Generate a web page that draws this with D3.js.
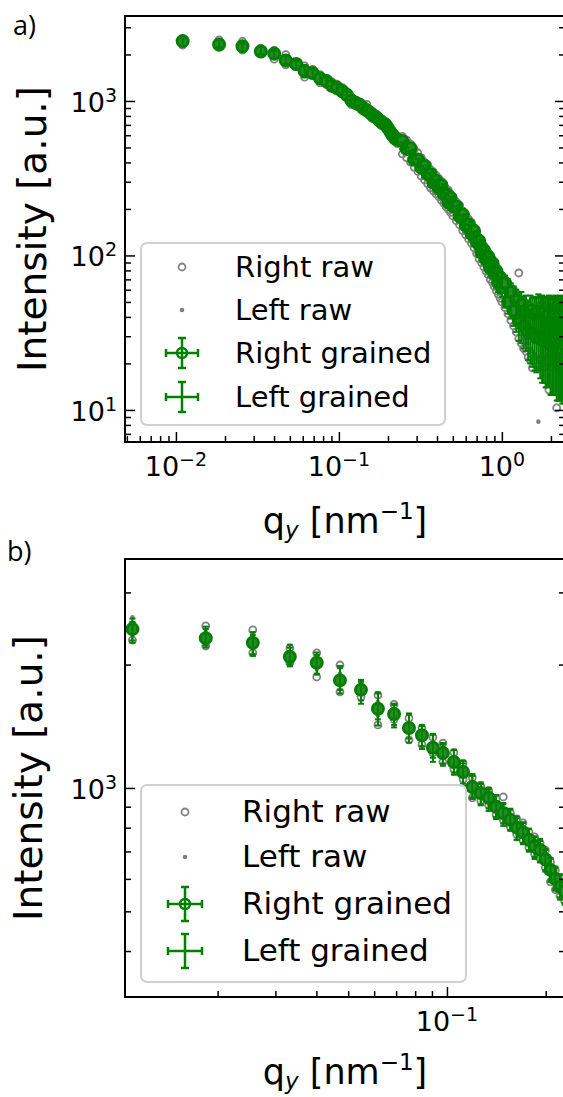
<!DOCTYPE html>
<html><head>
<meta charset="utf-8">
<script src="https://cdnjs.cloudflare.com/ajax/libs/d3/7.8.5/d3.min.js"></script>
<style>
  body { margin: 0; background: #fff; }
  svg { display: block; font-family: "DejaVu Sans", sans-serif; }
  .tick line { stroke: #000; stroke-width: 1.5px; }
  .domain { display: none; }
</style>
</head>
<body>
<svg id="fig" width="563" height="1097"></svg>
<script>

// q grid [nm^-1] (low-q part first, then the high-q tail seen only in panel a)
const qValues = [0.0110, 0.0184, 0.0256, 0.0332, 0.0401, 0.0472, 0.0547, 0.0616, 0.0690, 0.0766, 0.0839, 0.0906, 0.0972, 0.1050, 0.1120, 0.1195, 0.1268, 0.1340, 0.1412, 0.1485, 0.1560, 0.1632, 0.1705, 0.1778, 0.1850, 0.1922, 0.1995, 0.2068, 0.2140, 0.2212, 0.2285,
  0.245, 0.26, 0.275, 0.29, 0.305, 0.32, 0.335, 0.35, 0.365, 0.38, 0.395, 0.41, 0.425, 0.44, 0.455, 0.47, 0.485, 0.50,
  0.525, 0.55, 0.575, 0.60, 0.625, 0.65, 0.675, 0.70, 0.725, 0.75, 0.775, 0.80, 0.825, 0.85, 0.875, 0.90, 0.925, 0.95, 0.975, 1.00,
  1.045, 1.09, 1.135, 1.18, 1.225, 1.27, 1.315, 1.36, 1.405, 1.45, 1.495, 1.54, 1.585, 1.63, 1.675, 1.72, 1.765, 1.81, 1.855, 1.90, 1.945, 1.99, 2.035, 2.08, 2.125, 2.17, 2.215, 2.26, 2.305, 2.35, 2.395, 2.44];

// binned ("grained") intensities and their errors
const rightGrained = [2440, 2320, 2260, 2090, 2020, 1830, 1735, 1560, 1515, 1400, 1345, 1253, 1217, 1157, 1094, 1005, 972, 946, 900, 869, 836, 800, 780, 747, 720, 706, 670, 631, 600, 574, 560,
  551, 490, 494, 416, 418, 370, 380, 335, 336, 295, 304, 272, 286, 250, 250, 221, 236, 209,
  208, 179, 184, 156, 159, 138, 144, 122, 124, 104, 108, 94, 98, 83, 89, 77, 79, 67, 72, 62,
  66, 50, 58, 44, 51, 38, 48, 35, 44, 32, 44, 31, 42, 29.5, 43, 29, 42, 28, 40, 28, 41, 26.5, 40, 26.5, 41, 25.5, 40, 25.5, 41, 25, 40, 26];
const leftGrained = [2400, 2350, 2230, 2120, 2000, 1860, 1710, 1590, 1500, 1420, 1330, 1270, 1205, 1165, 1080, 1015, 965, 935, 905, 860, 840, 795, 775, 750, 715, 700, 665, 635, 605, 578, 555,
  514, 525, 451, 460, 398, 400, 344, 362, 313, 326, 280, 294, 259, 271, 233, 247, 216, 224,
  190, 197, 167, 171, 146, 152, 130, 132, 111, 116, 99, 103, 88, 93, 80, 84, 71, 75, 65, 69,
  54, 62, 47, 55, 41, 48, 37, 44, 34, 40, 31, 42, 30, 41, 30, 41, 28, 40, 27, 41, 27.5, 40, 26.5, 39, 26.5, 40, 25.5, 39, 25.5, 40, 25, 38];
const rightErr = [150, 120, 140, 110, 120, 130, 100, 140, 90, 110, 80, 95, 70, 80, 70, 65, 60, 55, 60, 50, 50, 52, 45, 48, 42, 45, 40, 42, 38, 40, 36,
  28, 27, 26, 25, 24, 23, 22, 22, 21, 20, 20, 19, 19, 18, 18, 17, 17, 16,
  16, 15, 15, 14, 14, 13, 13, 12, 12, 11, 11, 10, 10, 10, 9, 9, 9, 9, 8, 8,
  8, 8, 8, 9, 9, 10, 10, 10, 11, 11, 11, 12, 12, 12, 13, 13, 13, 13, 14, 14, 14, 14, 14, 14, 14, 14, 14, 14, 14, 14, 14, 14];
const leftErr = [140, 125, 130, 115, 110, 125, 105, 120, 95, 100, 85, 85, 72, 75, 68, 66, 58, 56, 56, 52, 50, 48, 46, 45, 44, 42, 40, 40, 38, 37, 36,
  26, 26, 25, 24, 23, 22, 22, 21, 20, 20, 19, 19, 18, 18, 17, 17, 16, 16,
  15, 15, 14, 14, 13, 13, 12, 12, 11, 11, 10, 10, 10, 9, 9, 9, 9, 8, 8, 8,
  8, 8, 8, 8, 9, 9, 10, 10, 10, 11, 11, 11, 12, 12, 12, 13, 13, 13, 13, 13, 13, 13, 14, 13, 14, 13, 14, 13, 14, 13, 14, 13];

// raw frames (two per side)
const rightRaw1 = [2500, 2486, 2430, 2195, 2135, 1995, 1760, 1685, 1600, 1480, 1400, 1330, 1287, 1220, 1150, 1060, 1010, 985, 940, 951, 870, 840, 822, 780, 760, 735, 705, 660, 630, 605, 590,
  590, 560, 528, 485, 462, 430, 402, 388, 360, 348, 330, 315, 302, 290, 272, 264, 250, 240,
  222, 212, 194, 183, 172, 164, 152, 142, 130, 124, 116, 110, 104, 99, 94, 90, 84, 80, 76, 73,
  70, 66, 62, 60, 57, 77, 52, 50, 49, 48, 47, 50, 46, 45, 47, 44, 48, 43, 45, 46, 44, 51, 43, 45, 44, 46, 43, 51.5, 44, 45, 43, 45];
const rightRaw2 = [2296, 2220, 2135, 2018, 1865, 1715, 1666, 1425, 1470, 1310, 1275, 1217, 1157, 1110, 1050, 946, 930, 909, 860, 835, 803, 770, 745, 715, 690, 675, 640, 590, 565, 545, 530,
  455, 430, 402, 372, 350, 326, 308, 292, 274, 262, 250, 240, 228, 218, 206, 198, 190, 180,
  168, 158, 145, 136, 128, 120, 112, 103, 95, 90, 84, 79, 75, 70, 67, 63, 59, 56, 53, 50,
  46, 42, 38, 35, 32, 29, 27, 25, 24, 22, 21, 18.7, 21, 20, 19.5, 21, 20, 19, 21, 20, 13.5, 20, 19, 21, 20, 10.3, 20, 19, 21, 20, 19, 20];
const leftRaw1 = [2610, 2400, 2350, 2150, 2080, 1900, 1780, 1620, 1550, 1430, 1370, 1290, 1240, 1180, 1120, 1030, 990, 960, 920, 885, 850, 815, 795, 760, 735, 720, 685, 645, 615, 590, 575,
  572, 548, 505, 474, 442, 415, 392, 372, 350, 334, 318, 305, 292, 279, 264, 254, 243, 232,
  216, 203, 188, 176, 166, 157, 148, 136, 126, 119, 112, 106, 100, 95, 91, 86, 81, 77, 73, 70,
  66, 62, 58, 55, 52, 49, 47, 45, 44, 43, 42, 44, 41, 40, 41, 40, 42, 39, 40, 41, 39, 40, 38, 40, 39, 41, 38, 39, 40, 38, 39, 38];
const leftRaw2 = [2380, 2280, 2200, 2050, 1950, 1780, 1700, 1500, 1480, 1370, 1320, 1230, 1190, 1130, 1070, 985, 950, 925, 880, 850, 820, 785, 765, 730, 705, 690, 655, 615, 585, 560, 545,
  478, 452, 425, 392, 370, 345, 326, 310, 290, 278, 265, 254, 242, 232, 220, 211, 202, 193,
  180, 168, 156, 146, 138, 130, 123, 113, 105, 99, 93, 88, 83, 79, 75, 72, 67, 64, 61, 58,
  53, 49, 45, 42, 39, 36, 33, 31, 29, 27, 25, 24, 23, 22, 8.4, 22, 23, 21, 22, 23, 21, 22, 23, 21, 22, 23, 21, 22, 23, 21, 22, 23];

const legendLabels = ["Right raw", "Left raw", "Right grained", "Left grained"];

// panel a: full range, panel b: zoom on low q
const xTicksA = [0.01, 0.1, 1];
const yTicksA = [10, 100, 1000];
const xTicksB = [0.1];
const yTicksB = [1000];

const GREEN = "#008000", GRAY = "#808080";
const svg = d3.select("#fig");

const rows = qValues.map((q, i) => ({
  q: q, r: rightGrained[i], l: leftGrained[i], re: rightErr[i], le: leftErr[i],
  rr: [rightRaw1[i], rightRaw2[i]], lr: [leftRaw1[i], leftRaw2[i]]
}));

function minorTicks(lo, hi) {
  const out = [];
  for (let e = -4; e <= 4; e++) {
    for (let m = 2; m <= 9; m++) {
      const v = m * Math.pow(10, e);
      if (v > lo && v < hi) out.push(v);
    }
  }
  return out;
}

function powLabel(sel, v) {
  const e = Math.round(Math.log10(v));
  sel.append("tspan").text("10");
  sel.append("tspan").attr("font-size", 19).attr("dy", -10).text(e < 0 ? "\u2212" + (-e) : e);
}

function drawPanel(p) {
  const x = d3.scaleLog().domain(p.xDomain).range([p.left, p.right]);
  const y = d3.scaleLog().domain(p.yDomain).range([p.bottom, p.top]);
  const g = svg.append("g");

  svg.append("clipPath").attr("id", "clip" + p.name)
    .append("rect").attr("x", p.left).attr("y", p.top)
    .attr("width", p.right - p.left).attr("height", p.bottom - p.top);
  const plot = g.append("g").attr("clip-path", "url(#clip" + p.name + ")");

  // raw data
  rows.forEach(d => {
    d.rr.forEach(v => plot.append("circle").attr("cx", x(d.q)).attr("cy", y(v)).attr("r", 3.5)
      .attr("fill", "none").attr("stroke", GRAY).attr("stroke-width", 1.8));
    d.lr.forEach(v => plot.append("circle").attr("cx", x(d.q)).attr("cy", y(v)).attr("r", 2.3)
      .attr("fill", GRAY));
  });

  // error bars
  function errbars(val, err, cls) {
    const eb = plot.selectAll("g." + cls).data(rows).join("g").attr("class", cls)
      .attr("stroke", GREEN).attr("stroke-width", 2);
    eb.append("line").attr("x1", d => x(d.q)).attr("x2", d => x(d.q))
      .attr("y1", d => y(val(d) - err(d))).attr("y2", d => y(val(d) + err(d)));
    eb.append("line").attr("x1", d => x(d.q) - 3).attr("x2", d => x(d.q) + 3)
      .attr("y1", d => y(val(d) - err(d))).attr("y2", d => y(val(d) - err(d)));
    eb.append("line").attr("x1", d => x(d.q) - 3).attr("x2", d => x(d.q) + 3)
      .attr("y1", d => y(val(d) + err(d))).attr("y2", d => y(val(d) + err(d)));
  }
  errbars(d => d.r, d => d.re, "ebR");
  plot.selectAll("circle.gr").data(rows).join("circle").attr("class", "gr")
    .attr("cx", d => x(d.q)).attr("cy", d => y(d.r)).attr("r", 5.5)
    .attr("fill", "#2a8a2a").attr("stroke", GREEN).attr("stroke-width", 3);
  errbars(d => d.l, d => d.le, "ebL");

  // axes, ticks pointing inwards
  const xMinor = minorTicks(p.xDomain[0], p.xDomain[1]);
  const yMinor = minorTicks(p.yDomain[0], p.yDomain[1]);
  g.append("g").attr("transform", `translate(0,${p.bottom})`)
    .call(d3.axisBottom(x).tickValues(p.xTicks).tickSize(-10).tickFormat(""));
  g.append("g").attr("transform", `translate(0,${p.bottom})`)
    .call(d3.axisBottom(x).tickValues(xMinor).tickSize(-6).tickFormat(""));
  [[d3.axisLeft, p.left], [d3.axisRight, p.right]].forEach(([ax, pos]) => {
    g.append("g").attr("transform", `translate(${pos},0)`)
      .call(ax(y).tickValues(p.yTicks).tickSize(-10).tickFormat(""));
    g.append("g").attr("transform", `translate(${pos},0)`)
      .call(ax(y).tickValues(yMinor).tickSize(-6).tickFormat(""));
  });
  g.selectAll(".tick text").remove();

  g.append("rect").attr("x", p.left).attr("y", p.top)
    .attr("width", p.right - p.left).attr("height", p.bottom - p.top)
    .attr("fill", "none").attr("stroke", "#000").attr("stroke-width", 2);

  // tick labels
  p.xTicks.forEach(v => {
    const t = g.append("text").attr("x", x(v)).attr("y", p.bottom + 34)
      .attr("text-anchor", "middle").attr("font-size", 27);
    powLabel(t, v);
  });
  p.yTicks.forEach(v => {
    const t = g.append("text").attr("x", p.left - 8).attr("y", y(v) + 11)
      .attr("text-anchor", "end").attr("font-size", 27);
    powLabel(t, v);
  });

  // axis labels
  g.append("text").attr("transform", `translate(${p.yLabelX},${(p.top + p.bottom) / 2}) rotate(-90)`)
    .attr("text-anchor", "middle").attr("font-size", 39).text("Intensity [a.u.]");
  const xl = g.append("text").attr("x", (p.left + p.right) / 2).attr("y", p.xLabelY)
    .attr("text-anchor", "middle").attr("font-size", 35);
  xl.append("tspan").text("q");
  xl.append("tspan").attr("font-style", "italic").attr("font-size", 23).attr("dy", 5).text("y");
  xl.append("tspan").attr("dy", -5).text(" [nm");
  xl.append("tspan").attr("font-size", 23).attr("dy", -14).text("\u22121");
  xl.append("tspan").attr("dy", 14).text("]");

  // panel letter
  svg.append("text").attr("x", p.letterX).attr("y", p.letterY)
    .attr("font-family", "'Open Sans', sans-serif").attr("font-size", 27).text(p.name + ")");

  // legend
  const L = p.legend;
  const lg = g.append("g");
  lg.append("rect").attr("x", L.x0).attr("y", L.y0).attr("width", L.x1 - L.x0).attr("height", L.y1 - L.y0)
    .attr("rx", 6).attr("fill", "#fff").attr("fill-opacity", 0.8)
    .attr("stroke", "#d0d0d0").attr("stroke-width", 2);
  legendLabels.forEach((lab, i) => {
    const cy = L.rows[i];
    if (i === 0) {
      lg.append("circle").attr("cx", L.mx).attr("cy", cy).attr("r", 3.5)
        .attr("fill", "none").attr("stroke", GRAY).attr("stroke-width", 1.8);
    } else if (i === 1) {
      lg.append("circle").attr("cx", L.mx).attr("cy", cy).attr("r", 2.3).attr("fill", GRAY);
    } else {
      const c = lg.append("g").attr("stroke", GREEN).attr("stroke-width", 2.5);
      const hw = L.hw, hh = L.hh;
      c.append("line").attr("x1", L.mx - hw).attr("x2", L.mx + hw).attr("y1", cy).attr("y2", cy);
      c.append("line").attr("x1", L.mx).attr("x2", L.mx).attr("y1", cy - hh).attr("y2", cy + hh);
      [-1, 1].forEach(s => {
        c.append("line").attr("x1", L.mx + s * hw).attr("x2", L.mx + s * hw).attr("y1", cy - 4).attr("y2", cy + 4);
        c.append("line").attr("x1", L.mx - 4).attr("x2", L.mx + 4).attr("y1", cy + s * hh).attr("y2", cy + s * hh);
      });
      if (i === 2) {
        lg.append("circle").attr("cx", L.mx).attr("cy", cy).attr("r", 5)
          .attr("fill", "none").attr("stroke", GREEN).attr("stroke-width", 2.5);
      }
    }
    lg.append("text").attr("x", L.tx).attr("y", cy + 10).attr("font-size", L.fs).text(lab);
  });
}

drawPanel({
  name: "a", left: 125, right: 565, top: 16, bottom: 442,
  xDomain: [0.00487, 2.44], yDomain: [6.2, 3548],
  xTicks: xTicksA, yTicks: yTicksA,
  yLabelX: 46, xLabelY: 533, letterX: 13, letterY: 35,
  legend: { x0: 141, x1: 445, y0: 243, y1: 425, rows: [267, 310, 353, 397], mx: 182, tx: 235, fs: 29, hw: 16, hh: 15 }
});
drawPanel({
  name: "b", left: 125, right: 565, top: 559, bottom: 997,
  xDomain: [0.01044, 0.229], yDomain: [309, 3619],
  xTicks: xTicksB, yTicks: yTicksB,
  yLabelX: 42, xLabelY: 1084, letterX: 7, letterY: 561,
  legend: { x0: 141, x1: 466, y0: 785, y1: 982, rows: [812, 857, 904, 951], mx: 185, tx: 242, fs: 31, hw: 17, hh: 17 }
});

</script>
</body>
</html>
